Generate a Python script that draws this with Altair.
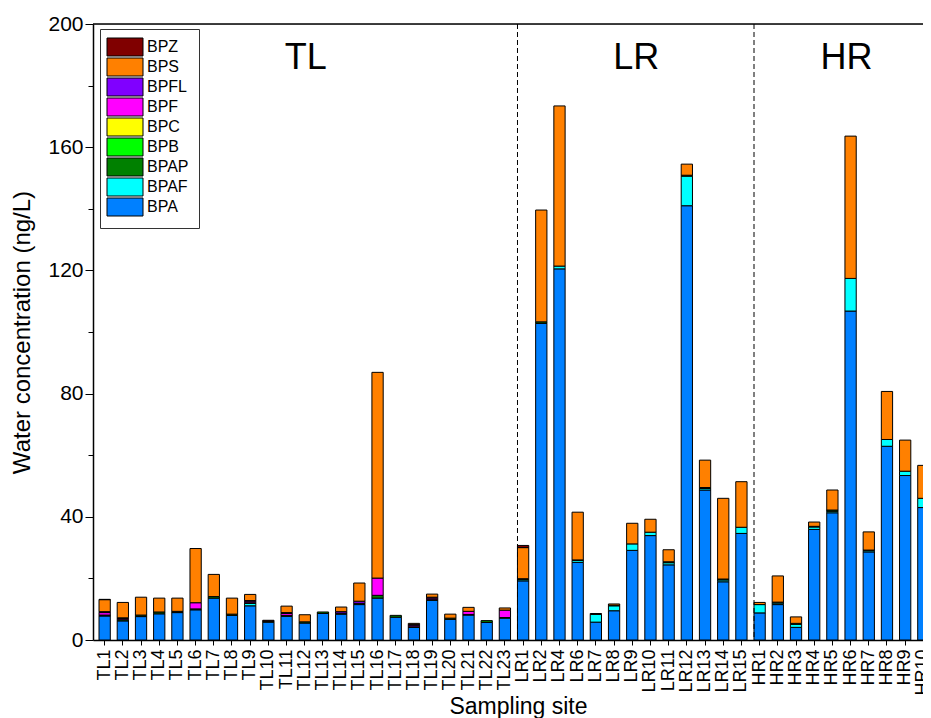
import altair as alt
import pandas as pd

sites = ([f"TL{i}" for i in range(1, 24)]
         + ["LR1", "LR2", "LR4", "LR6", "LR7", "LR8", "LR9", "LR10", "LR11", "LR12", "LR13", "LR14", "LR15"]
         + [f"HR{i}" for i in range(1, 11)])

# values (ng/L) per compound, in site order
BPA = [7.8, 6.2, 7.6, 8.5, 8.9, 9.8, 13.6, 8.0, 11.1, 5.8, 7.7, 5.5, 8.6, 8.4, 11.5, 13.6, 7.4, 4.1, 12.9, 6.7, 8.1, 5.7, 7.1,
       19.2, 102.8, 120.5, 25.2, 5.8, 9.5, 29.1, 33.9, 24.4, 141.0, 48.7, 18.9, 34.6,
       8.8, 11.5, 4.1, 35.9, 41.3, 106.8, 28.6, 62.9, 53.4, 43.0]
BPAF = [0, 0, 0, 0, 0, 0, 0, 0, 0.8, 0, 0, 0, 0, 0, 0, 0, 0, 0, 0, 0, 0, 0, 0,
        0.4, 0, 0.9, 0.6, 2.5, 1.6, 2.1, 1.1, 0.7, 9.6, 0.5, 0.6, 2.0,
        2.7, 0.5, 1.0, 0.8, 0.5, 10.6, 0.4, 2.2, 1.4, 3.0]
BPAP = [0.3, 0.4, 0.5, 0.6, 0.4, 0.3, 0.5, 0.4, 0.2, 0.3, 0.3, 0.4, 0.5, 0.3, 0.4, 0.9, 0.6, 0.2, 0.2, 0.4, 0.2, 0.6, 0.2,
        0.3, 0.5, 0, 0.2, 0, 0.2, 0, 0, 0.3, 0.3, 0.3, 0.3, 0,
        0, 0.3, 0.3, 0.2, 0.4, 0, 0.2, 0, 0, 0]
BPB = [0] * 46
BPC = [0] * 46
BPF = [0.8, 0.4, 0, 0, 0, 2.0, 0, 0, 0.5, 0, 0.6, 0, 0, 0, 0, 5.6, 0, 0.5, 0.5, 0, 1.0, 0, 2.4,
       0, 0, 0, 0, 0, 0, 0, 0, 0, 0, 0, 0, 0,
       0, 0, 0, 0, 0, 0, 0, 0, 0, 0]
BPFL = [0.3, 0.2, 0, 0, 0, 0, 0, 0, 0.2, 0, 0.3, 0, 0, 0.5, 0.7, 0, 0, 0.2, 0.3, 0, 0, 0, 0,
        0, 0, 0, 0, 0, 0, 0, 0, 0, 0, 0, 0, 0,
        0, 0, 0, 0, 0, 0, 0, 0, 0, 0]
BPS = [3.9, 5.0, 5.8, 4.5, 4.3, 17.6, 7.2, 5.2, 2.0, 0, 2.1, 2.3, 0, 1.5, 5.9, 66.8, 0, 0.4, 1.0, 1.3, 1.3, 0, 0.7,
       10.1, 36.3, 52.0, 15.5, 0.3, 0.4, 6.7, 4.2, 3.9, 3.6, 8.9, 26.2, 14.8,
       0.7, 8.5, 2.1, 1.4, 6.5, 46.2, 5.9, 15.6, 10.1, 10.7]
BPZ = [0.1, 0, 0, 0, 0, 0, 0, 0, 0, 0.3, 0, 0, 0, 0, 0, 0, 0, 0, 0, 0, 0, 0, 0,
       0.7, 0, 0, 0, 0, 0, 0, 0, 0, 0, 0, 0, 0,
       0, 0, 0, 0, 0, 0, 0, 0, 0, 0]

compounds = ["BPA", "BPAF", "BPAP", "BPB", "BPC", "BPF", "BPFL", "BPS", "BPZ"]
series = [BPA, BPAF, BPAP, BPB, BPC, BPF, BPFL, BPS, BPZ]
colors = ["#0080FF", "#00FFFF", "#008000", "#00FF00", "#FFFF00", "#FF00FF", "#8000FF", "#FF8000", "#800000"]

group_labels = ["TL", "LR", "HR"]
group_anchor = ["TL12", "LR9", "HR5"]
divider_sites = ["LR1", "HR1"]

rows = []
for k, (c, vals) in enumerate(zip(compounds, series)):
    for s, v in zip(sites, vals):
        if v > 0:
            rows.append({"site": s, "compound": c, "value": v, "idx": k})
df = pd.DataFrame(rows)

FONT = "Liberation Sans"
# band range runs past the visible plot (the last site is cut off, as in the original)
xscale = alt.Scale(domain=sites, range=[0, 842], paddingInner=0.38, paddingOuter=0.33)
yscale = alt.Scale(domain=[0, 200], nice=False, zero=True)

legend = alt.Legend(
    title=None, orient="none", legendX=7, legendY=5,
    symbolType="M-4,-2H4V2H-4Z", symbolSize=81, symbolOffset=7, labelOffset=14,
    symbolStrokeColor="black", symbolStrokeWidth=1, symbolOpacity=1,
    labelFont=FONT, labelFontSize=16, labelColor="black",
    strokeColor="#333333", padding=10, rowPadding=-2, fillColor="white",
)

bars = alt.Chart(df).mark_bar(stroke="black", strokeWidth=1, clip=True).encode(
    x=alt.X("site:N", sort=sites, scale=xscale,
            axis=alt.Axis(title="Sampling site", labelAngle=270, labelFont=FONT, labelFontSize=18,
                          labelColor="black", labelPadding=4, tickSize=5, tickColor="black",
                          domainColor="black", domainWidth=1.5, titleFont=FONT, titleFontSize=23,
                          titleFontWeight="normal", titleColor="black", titleY=66, titleX=425,
                          titleBaseline="middle", titleAlign="center")),
    y=alt.Y("value:Q", stack="zero", scale=yscale,
            axis=alt.Axis(title="Water concentration (ng/L)", values=list(range(0, 201, 20)),
                          labelExpr="datum.value % 40 === 0 ? datum.label : ''",
                          tickSize={"condition": {"test": "datum.value % 40 === 0", "value": 8}, "value": 5},
                          tickColor="black", domainColor="black", domainWidth=1.5, grid=False,
                          labelFont=FONT, labelFontSize=21, labelColor="black", labelPadding=2,
                          titleFont=FONT, titleFontSize=24, titleFontWeight="normal", titleColor="black",
                          titleAngle=270, titleX=-71, titleY=308, titleBaseline="middle", titleAlign="center")),
    color=alt.Color("compound:N", scale=alt.Scale(domain=compounds[::-1], range=colors[::-1]), legend=legend),
    order=alt.Order("idx:Q", sort="ascending"),
)

top_line = alt.Chart(pd.DataFrame({"y": [200]})).mark_rule(color="black", strokeWidth=1.5).encode(
    y=alt.Y("y:Q", scale=yscale)
)

div_df = pd.DataFrame({"site": divider_sites})
dividers = alt.Chart(div_df).mark_rule(color="black", strokeWidth=1, strokeDash=[5, 3], xOffset=-5.6).encode(
    x=alt.X("site:N", sort=sites, scale=xscale)
)

lab_df = pd.DataFrame({"site": group_anchor, "label": group_labels, "y": [189, 189, 189], "dx": [1, 4, 14]})
texts = []
for i in range(3):
    texts.append(
        alt.Chart(lab_df.iloc[[i]]).mark_text(font=FONT, fontSize=36, color="black", align="center",
                                             baseline="middle", dx=float(lab_df["dx"][i])).encode(
            x=alt.X("site:N", sort=sites, scale=xscale),
            y=alt.Y("y:Q", scale=yscale),
            text="label:N",
        )
    )

chart = alt.layer(bars, top_line, dividers, *texts).properties(
    width=830, height=616,
    autosize=alt.AutoSizeParams(type="none"),
    padding={"left": 85, "top": 16, "right": 0, "bottom": 78},
).configure_view(stroke=None).configure_legend(strokeWidth=1.5).configure(font=FONT)

chart.save("out.html", embed_options={"renderer": "svg", "actions": False})
